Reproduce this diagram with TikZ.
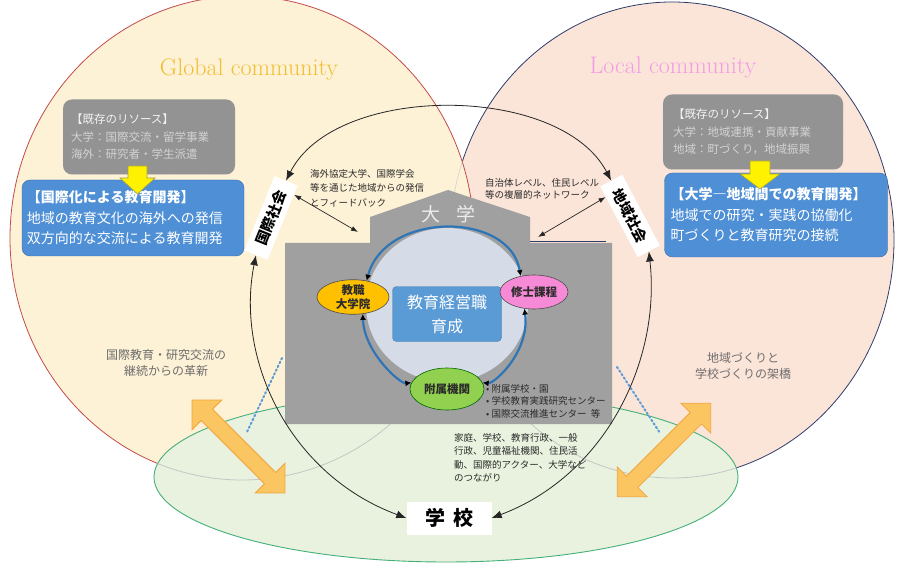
\documentclass[tikz,border=0pt]{standalone}
\usepackage{fontspec}
\newfontfamily\jp{Noto Sans CJK JP}
\usetikzlibrary{arrows.meta,calc,shapes.geometric}
\newcommand{\jfs}[2]{\fontsize{#1}{#2}\selectfont}
\definecolor{globfill}{HTML}{FDF1D6}
\definecolor{globline}{HTML}{C44B4B}
\definecolor{locfill}{HTML}{FBE4D8}
\definecolor{locline}{HTML}{2F3D6B}
\definecolor{grnfill}{HTML}{E8F2DE}
\definecolor{grnline}{HTML}{45B07A}
\definecolor{housegray}{HTML}{A0A0A0}
\definecolor{innerfill}{HTML}{D5DCE7}
\definecolor{ringblue}{HTML}{2E75B6}
\definecolor{boxblue}{HTML}{4E8FD6}
\definecolor{boxblueline}{HTML}{3A6EA8}
\definecolor{midblue}{HTML}{5B9BD5}
\definecolor{resgray}{HTML}{939393}
\definecolor{restext}{HTML}{D2D2D2}
\definecolor{orfill}{HTML}{FBC662}
\definecolor{orline}{HTML}{F2A53A}
\definecolor{txtdark}{HTML}{2B2B2B}
\definecolor{txtgray}{HTML}{6E6E6E}
\definecolor{globtitle}{HTML}{F2BE32}
\definecolor{loctitle}{HTML}{F29CE6}
\definecolor{kyofill}{HTML}{FFC000}
\definecolor{shufill}{HTML}{F78AD6}
\definecolor{fuzfill}{HTML}{92D050}
\begin{document}
\begin{tikzpicture}[x=1pt,y=-1pt,
  resbox/.style={draw=gray!55, densely dotted, fill=resgray, rounded corners=9pt, align=left, inner ysep=4pt,
    font=\jp\jfs{11.5}{17.5}, text=restext},
  bluebox/.style={draw=boxblueline, fill=boxblue, rounded corners=8pt, align=left, inner ysep=4pt,
    font=\jp\jfs{14}{20.5}, text=white},
  yarrow/.style={fill=yellow, draw=yellow!60!black, line width=0.6pt},
  oarrow/.style={fill=orfill, draw=orline, line width=0.8pt},
  lab/.style={fill=white, minimum width=80pt, minimum height=25pt, inner sep=1pt, font=\jp\bfseries\jfs{14.5}{16}},
  bigarc/.style={draw=black!85, line width=0.8pt, {Latex[length=10pt,width=8pt]}-{Latex[length=10pt,width=8pt]}},
  smallarc/.style={draw=black!85, line width=0.7pt, {Latex[length=7pt,width=5pt]}-{Latex[length=7pt,width=5pt]}},
  ring/.style={draw=ringblue, line width=2.2pt, {Latex[length=6pt,width=6pt,color=black]}-{Latex[length=6pt,width=6pt,color=black]}},
  oval/.style={ellipse, draw=black!70, line width=0.6pt, inner sep=0pt, font=\jp\bfseries\jfs{11.5}{13.5}, align=center, text=txtdark},
  note/.style={inner sep=0pt, align=left, font=\jp\jfs{9.5}{14}, text=txtdark},
  gnote/.style={inner sep=0pt, align=center, font=\jp\jfs{12}{15.5}, text=txtgray},
  dots/.style={draw=midblue, line width=2pt, dash pattern=on 1.6pt off 2.6pt, line cap=round}
]
\useasboundingbox (0,0) rectangle (897,564);
\fill[white] (0,0) rectangle (897,564);

% community ellipses
\filldraw[fill=locfill, draw=locline, line width=0.8pt] (672,240) ellipse [x radius=222, y radius=238];
\filldraw[fill=globfill, draw=globline, line width=0.8pt] (242,238) ellipse [x radius=232, y radius=242];
\begin{scope}
  \clip (242,238) ellipse [x radius=232, y radius=242];
  \draw[gray!35, line width=0.6pt] (672,240) ellipse [x radius=222, y radius=238];
\end{scope}
\filldraw[fill=grnfill, draw=grnline, line width=0.9pt] (446,477) ellipse [x radius=292, y radius=85];
\begin{scope}
  \clip (446,477) ellipse [x radius=292, y radius=85];
  \draw[gray!45, line width=0.8pt] (242,238) ellipse [x radius=232, y radius=242];
  \draw[gray!45, line width=0.8pt] (672,240) ellipse [x radius=222, y radius=238];
\end{scope}

% dotted blue lines
\coordinate (d1a) at (282,358); \coordinate (d1b) at (247,432);
\coordinate (d2a) at (617,367); \coordinate (d2b) at (660,433);
\draw[dots] (d1a) -- (d1b);
\draw[dots] (d2a) -- (d2b);

% house (university)
\fill[housegray] (285,243) -- (370,243) -- (370,217) -- (448,190) -- (530,217) -- (530,243)
  -- (612,243) -- (612,424) -- (285,424) -- cycle;
\draw[locline, line width=1pt] (530,242) -- (606,242);
\node[inner sep=0pt, font=\jp\jfs{19}{21}, text=white!85!gray] (daigaku) at (448,214) {大\hspace{16pt}学};

% inner cycle
\fill[innerfill] (447,305) ellipse [x radius=81, y radius=77];
\node[draw=midblue!80!black, fill=midblue, rounded corners=4pt, minimum width=109pt, minimum height=55pt,
  align=center, font=\jp\jfs{16}{24}, text=white] (ikusei) at (447,314) {教育経営職\\育成};
\node[oval, fill=kyofill, minimum width=72pt, minimum height=34pt] (kyoshoku) at (353,297) {教職\\大学院};
\node[oval, fill=shufill, minimum width=68pt, minimum height=34pt] (shushi) at (534,292) {修士課程};
\node[oval, fill=fuzfill, draw=green!40!black, minimum width=74pt, minimum height=42pt] (fuzoku) at (447,389) {附属機関};
\draw[ring] (kyoshoku.50) .. controls (385,211) and (510,211) .. (shushi.130);
\draw[ring] (kyoshoku.-60) .. controls (364,352) and (400,384) .. (fuzoku.170);
\draw[ring] (shushi.-120) .. controls (530,352) and (494,384) .. (fuzoku.10);
\node[note, anchor=north west, font=\jp\jfs{9.5}{12.6}] (fzlist) at (486,384) {•\ 附属学校・園\\•\ 学校教育実践研究センター\\•\ 国際交流推進センター\ \ 等};

% resource boxes
\node[resbox, text width=156pt, inner xsep=8pt, minimum height=75pt] (resL) at (149,137)
  {{\color{white!90!gray}【既存のリソース】}\\大学：国際交流・留学事業\\海外：研究者・学生派遣};
\node[resbox, text width=160pt, inner xsep=10pt, minimum height=75pt] (resR) at (753,132)
  {{\color{white!90!gray}【既存のリソース】}\\大学：地域連携・貢献事業\\地域：町づくり，地域振興};
\node[bluebox, text width=212pt, inner xsep=5pt, minimum height=76pt] (devL) at (133,218)
  {\textbf{【国際化による教育開発】}\\地域の教育文化の海外への発信\\双方向的な交流による教育開発};
\node[bluebox, text width=211pt, inner xsep=6pt, minimum height=84pt] (devR) at (776,215)
  {\textbf{【大学―地域間での教育開発】}\\地域での研究・実践の協働化\\町づくりと教育研究の接続};
\draw[yarrow] (128,166) -- (147,166) -- (147,178) -- (155,178) -- (137.5,194) -- (120,178) -- (128,178) -- cycle;
\draw[yarrow] (750,161) -- (770,161) -- (770,174) -- (780,174) -- (760,189) -- (740,174) -- (750,174) -- cycle;

% titles
\node[inner sep=0pt, font=\fontsize{24}{26}\selectfont, text=globtitle] (glob) at (249,70) {Global community};
\node[inner sep=0pt, font=\fontsize{24}{26}\selectfont, text=loctitle] (loc) at (673,68) {Local community};

% society labels and school
\node[lab, rotate=68] (kokusai) at (271,218) {国際社会};
\node[lab, rotate=-62] (chiiki) at (630,216) {地域社会};
\node[fill=white, minimum width=85pt, minimum height=33pt, inner sep=0pt, font=\jp\bfseries\jfs{20}{22}] (gakko) at (449,518) {学\hspace{8pt}校};

% black arcs
\draw[bigarc] (kokusai.east) .. controls (335,83) and (560,83) .. (chiiki.west);
\draw[bigarc] (kokusai.west) .. controls (235,360) and (290,475) .. (gakko.west);
\draw[bigarc] (chiiki.east) .. controls (661,360) and (606,475) .. (gakko.east);
\coordinate (hl) at (358,232);
\coordinate (hr) at (538,237);
\draw[smallarc] ($(kokusai.south east)!0.25!(kokusai.south)$) -- (hl);
\draw[smallarc] ($(chiiki.south west)!0.3!(chiiki.south)$) -- (hr);

% orange double arrows
\begin{scope}[shift={(238.5,446.5)}, rotate=-45]
  \draw[oarrow] (-65.7,0) -- (-44.7,21) -- (-44.7,8) -- (44.7,8) -- (44.7,21) -- (65.7,0)
    -- (44.7,-21) -- (44.7,-8) -- (-44.7,-8) -- (-44.7,-21) -- cycle;
\end{scope}
\begin{scope}[shift={(664,450)}, rotate=45]
  \draw[oarrow] (-66,0) -- (-45,21) -- (-45,8) -- (45,8) -- (45,21) -- (66,0)
    -- (45,-21) -- (45,-8) -- (-45,-8) -- (-45,-21) -- cycle;
\end{scope}

% annotations
\node[note, anchor=north west, font=\jp\jfs{9.5}{14.5}] (annoL) at (310,169) {海外協定大学、国際学会\\等を通じた地域からの発信\\とフィードバック};
\node[note, anchor=north west, font=\jp\jfs{9.5}{12.5}] (annoR) at (485,178) {自治体レベル、住民レベル\\等の複層的ネットワーク};
\node[gnote] (innovL) at (166,363) {国際教育・研究交流の\\継続からの革新};
\node[gnote] (innovR) at (743,366) {地域づくりと\\学校づくりの架橋};
\node[note, anchor=north west, font=\jp\jfs{9.5}{13.4}] (links) at (454,433) {家庭、学校、教育行政、一般\\行政、児童福祉機関、住民活\\動、国際的アクター、大学など\\のつながり};
\end{tikzpicture}
\end{document}
